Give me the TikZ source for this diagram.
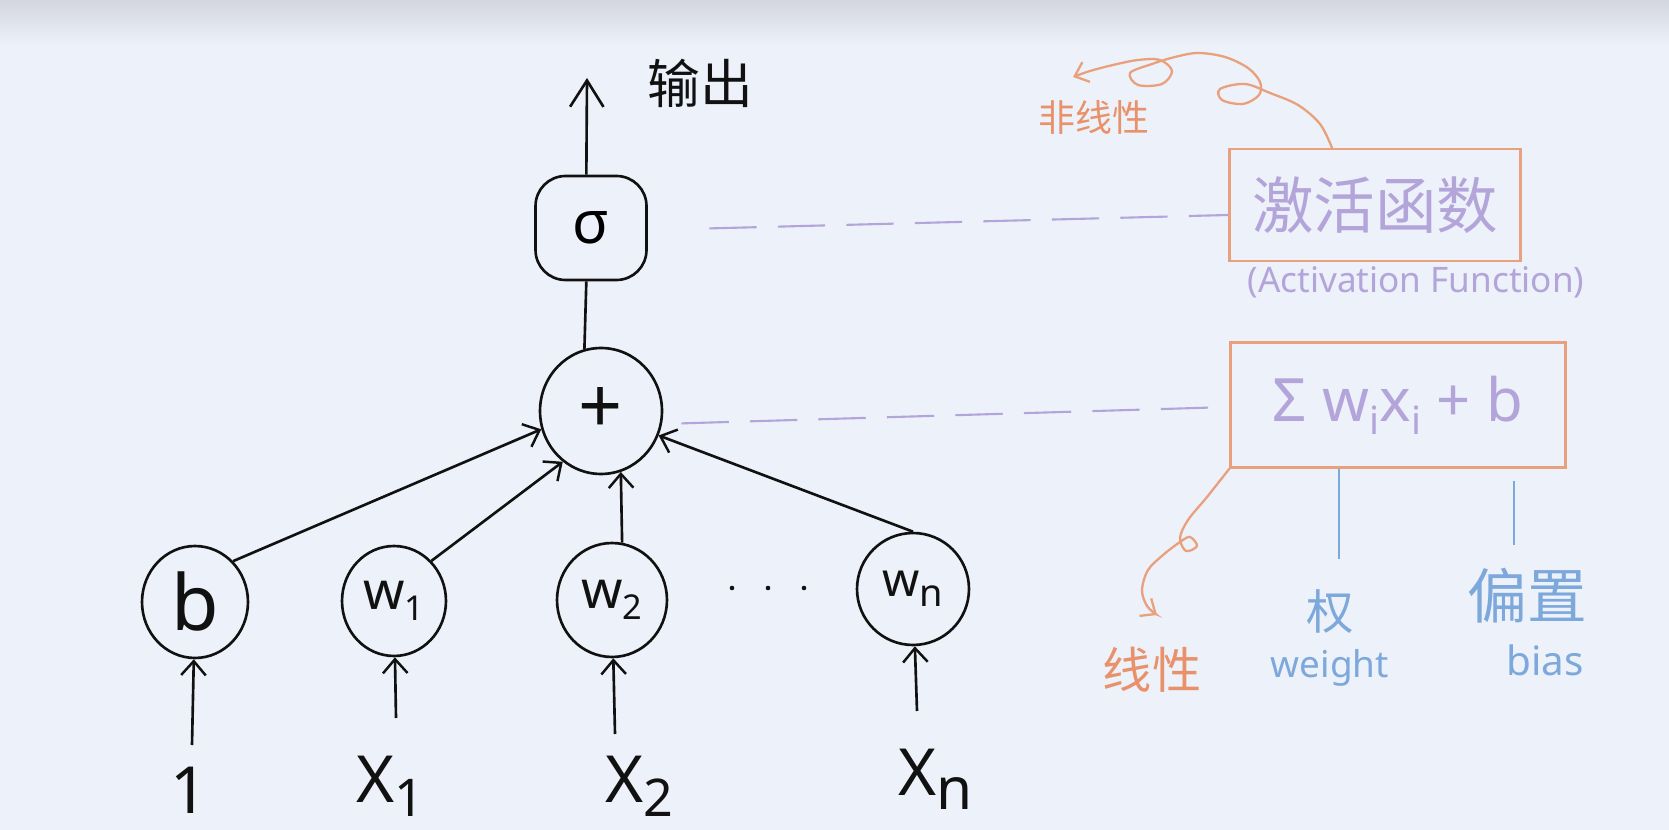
\documentclass[tikz,border=0pt]{standalone}
\usepackage{fontspec}
\setmainfont{Noto Sans}
\newfontfamily\cjk{Noto Sans CJK SC}
\usetikzlibrary{arrows.meta,shapes.geometric,calc}

\definecolor{bg}{HTML}{EDF1F9}
\definecolor{bgtop}{HTML}{D3D6DE}
\definecolor{ink}{HTML}{111111}
\definecolor{peach}{HTML}{E9A07C}
\definecolor{peachtext}{HTML}{E8916A}
\definecolor{lav}{HTML}{B3A4DA}
\definecolor{sky}{HTML}{7DA8DB}

\newcommand{\fs}[1]{\fontsize{#1}{#1}\selectfont}
\newcommand{\lowsub}[2][0.65]{\raisebox{-0.22em}{\scalebox{#1}{#2}}}

\begin{document}
\begin{tikzpicture}[x=0.02cm,y=-0.02cm,
  inkline/.style={draw=ink, line width=1.5pt},
  arr/.style={inkline, -{Straight Barb[length=8pt,width=14pt,line width=1.4pt]}},
  bigarr/.style={inkline, -{Straight Barb[length=15pt,width=19pt,line width=1.5pt]}},
  neuron/.style={ellipse, draw=ink, line width=1.5pt, inner sep=0pt, text=ink},
  inlabel/.style={text=ink, font=\fs{37}, inner sep=1pt},
  notebox/.style={draw=peach, line width=1.3pt, inner sep=0pt, text=lav},
  guide/.style={draw=lav, line width=1.2pt, dash pattern=on 27pt off 12pt},
  curl/.style={draw=peach, line width=1.3pt, line cap=round,
    -{Straight Barb[length=7pt,width=12pt,line width=1.3pt]}},
  skyline/.style={draw=sky, line width=1.3pt},
]
% background with a soft darker band at the top
\fill[bg] (0,0) rectangle (1669,830);
\shade[top color=bgtop, bottom color=bg] (0,0) rectangle (1669,45);
\useasboundingbox (0,0) rectangle (1669,830);

% ---- neuron ----
\node[draw=ink, line width=1.5pt, rounded corners=0.6cm, minimum width=2.22cm,
      minimum height=2.08cm, inner sep=0pt, font=\fs{34}] (sig) at (591,228) {σ};
\node[neuron, minimum width=2.44cm, minimum height=2.52cm, font=\fs{44}] (plus) at (601,411) {+};

\node[neuron, minimum width=2.12cm, minimum height=2.24cm, font=\fs{44}] (b) at (195,602) {b};
\node[neuron, minimum width=2.08cm, minimum height=2.20cm, font=\fs{30}] (w1) at (394,601) {w\lowsub{1}};
\node[neuron, minimum width=2.20cm, minimum height=2.28cm, font=\fs{30}] (w2) at (612,600) {w\lowsub{2}};
\node[neuron, minimum width=2.24cm, minimum height=2.24cm, font=\fs{27}] (wn) at (913,589) {w\lowsub[0.8]{n}};
\foreach \x in {732,768,804} \fill[ink] (\x,588) circle (1.3pt);

% inputs
\node[inlabel] (x0) at (189,790) {1};
\node[inlabel] (x1) at (390,786) {X\lowsub[0.8]{1}};
\node[inlabel] (x2) at (639,786) {X\lowsub[0.8]{2}};
\node[inlabel] (xn) at (936,779) {X\lowsub[0.9]{n}};
\coordinate (ib) at (192,745);
\coordinate (i1) at (396,718);
\coordinate (i2) at (615,734);
\coordinate (in) at (917,711);
\draw[arr] (ib) -- (b);
\draw[arr] (i1) -- (w1);
\draw[arr] (i2) -- (w2);
\draw[arr] (in) -- (wn);

% weighted inputs into the sum
\draw[arr] (b.47) -- (plus.197);
\draw[arr] (w1.47) -- (plus.233);
\draw[arr] (w2.80) -- (plus.288);
\draw[arr] (wn.90) -- (plus.337);
\draw[inkline] (plus.105) -- (sig.265);

% output
\coordinate (outtip) at (587,78);
\draw[bigarr] (sig.95) -- (outtip);
\node[text=ink, font=\cjk\fs{30}] (outlbl) at (700,83) {输出};

% ---- notes ----
\node[notebox, minimum width=5.82cm, minimum height=2.24cm, font=\cjk\fs{35}] (act) at (1375,205) {激活函数};
\node[text=lav, font=\fs{20}] (actname) at (1416,282) {(Activation Function)};
\node[notebox, minimum width=6.7cm, minimum height=2.5cm, font=\fs{34}] (lin) at (1398,405)
  {Σ w\lowsub{i}x\lowsub{i} + b};

\draw[guide, shorten <=35pt] ([yshift=-0.04cm]sig.east) -- ([yshift=-0.2cm]act.west);
\draw[guide, shorten <=11pt] (plus.-12) -- ([yshift=-0.04cm]lin.west);

% non-linear curl
\coordinate (curlA) at ([xshift=-0.86cm]act.north);
\coordinate (nltip) at (1073,77);
\draw[curl] plot[smooth, tension=0.55] coordinates {(curlA) (1320,124) (1298,105) (1270,93)
  (1245,84) (1220,89) (1222,100) (1243,104) (1259,95) (1260,82) (1248,68) (1225,57) (1198,53)
  (1175,57) (1152,64) (1130,73) (1138,85) (1162,84) (1172,71) (1160,60) (1138,60) (1113,65)
  (1090,71) (nltip)};
\node[text=peachtext, font=\cjk\fs{21}] (nonlin) at (1094,117) {非线性};

% linear curl
\coordinate (lintip) at (1157,615);
\draw[curl] plot[smooth, tension=0.55] coordinates {(lin.south west) (1207,497) (1188,520)
  (1180,538) (1186,551) (1197,546) (1190,537) (1180,542) (1163,555) (1148,570) (1142,590)
  (1147,606) (lintip)};
\node[text=peachtext, font=\cjk\fs{28}] (linear) at (1152,670) {线性};

% weight and bias
\node[text=sky, font=\cjk\fs{27}] (quan) at (1330,612) {权};
\node[text=sky, font=\fs{21}] (weight) at (1330,668) {weight};
\node[text=sky, font=\cjk\fs{34}] (pz) at (1527,596) {偏置};
\node[text=sky, font=\fs{23}] (bias) at (1545,660) {bias};
\draw[skyline, shorten >=14pt] ([xshift=0.18cm]quan.north |- lin.south) -- ([xshift=0.18cm]quan.north);
\draw[skyline, shorten <=7pt, shorten >=10pt] ([xshift=-0.26cm]pz.north |- lin.south) -- ([xshift=-0.26cm]pz.north);
\end{tikzpicture}
\end{document}
